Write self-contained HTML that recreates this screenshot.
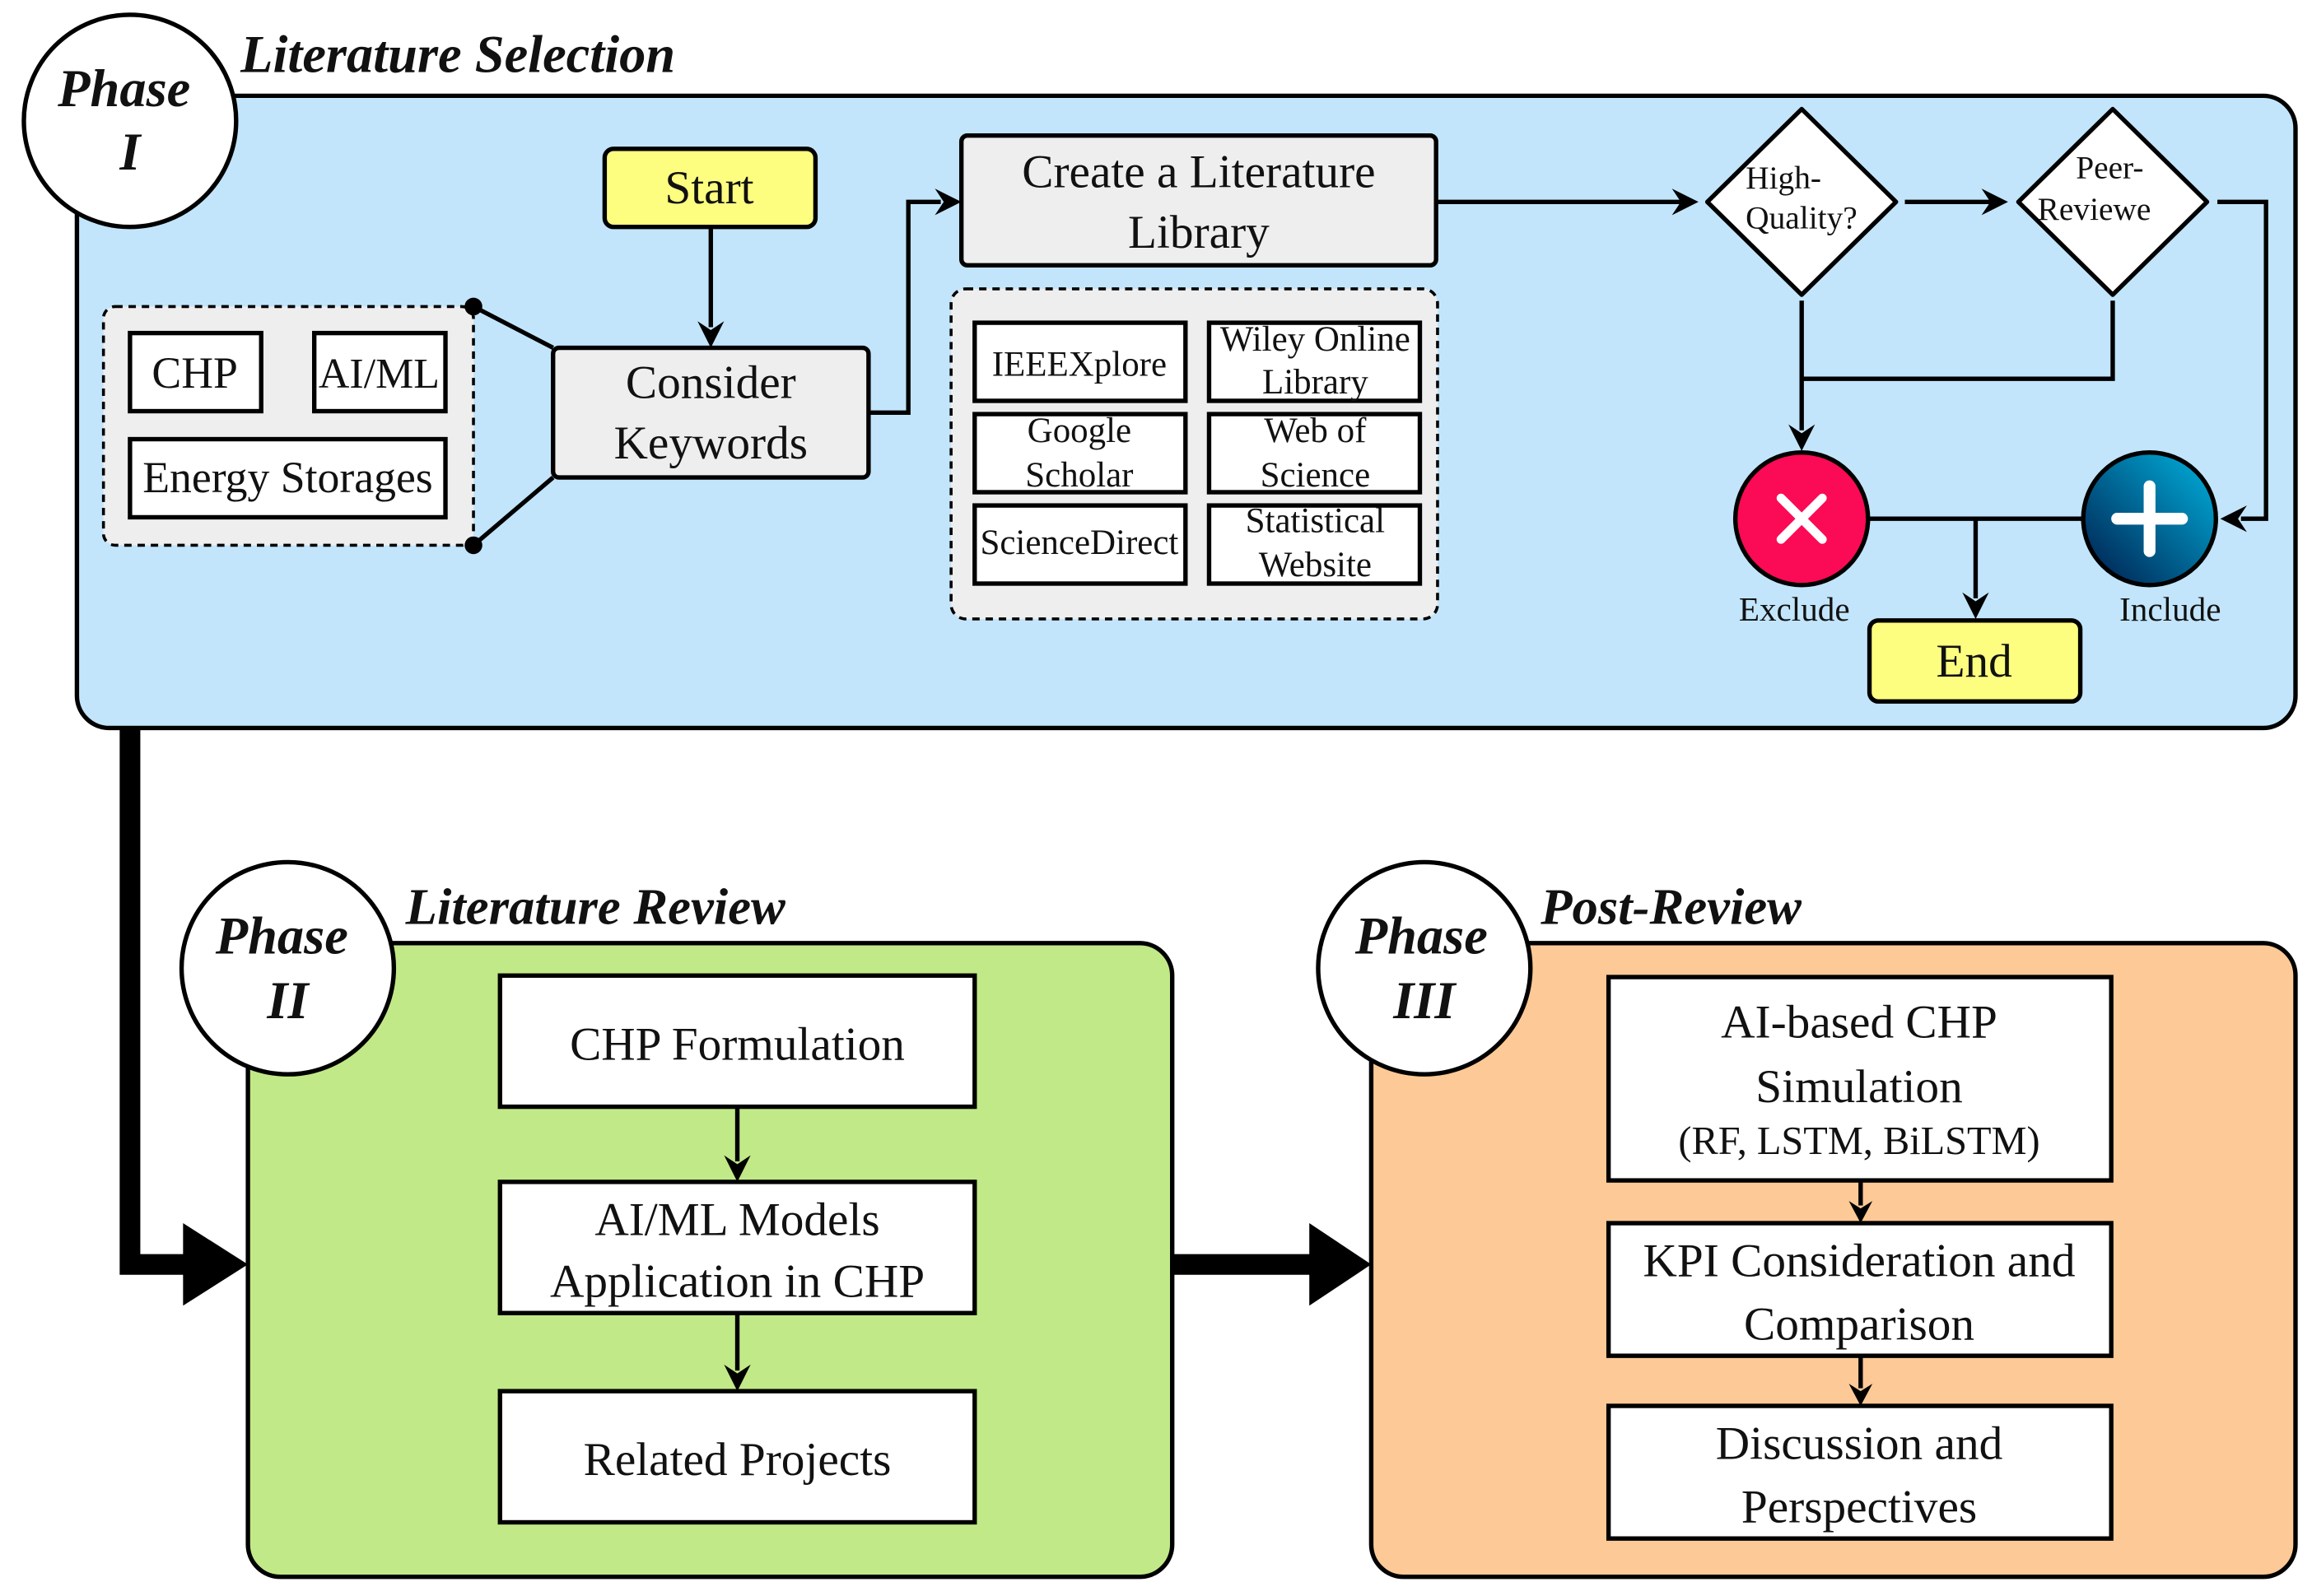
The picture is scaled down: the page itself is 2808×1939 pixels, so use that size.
<!DOCTYPE html>
<html><head><meta charset="utf-8"><style>
html,body{margin:0;padding:0;background:#fff;}
svg{display:block;font-family:"Liberation Serif","Times New Roman",Times,serif;}
svg text{font-family:"Liberation Serif","Times New Roman",Times,serif;fill:#111;}
.b{font-weight:bold;font-style:italic;}
</style></head><body>
<svg width="2808" height="1939" viewBox="0 0 1568 1083" xmlns="http://www.w3.org/2000/svg" font-family="Liberation Serif, Times New Roman, serif">
<defs>
<linearGradient id="gi" x1="0" y1="1" x2="1" y2="0">
<stop offset="0" stop-color="#001a4a"/><stop offset="1" stop-color="#00b4e0"/>
</linearGradient>
</defs>
<polyline points="88,490 88,858 128,858" fill="none" stroke="#000" stroke-width="14"/>
<polygon points="124,830 168,858 124,886" fill="#000"/>
<rect x="52" y="65" width="1505" height="429" rx="22" fill="#c2e5fb" stroke="#000" stroke-width="3"/>
<circle cx="88" cy="82" r="72" fill="#fff" stroke="#000" stroke-width="3"/>
<text x="84" y="72" font-size="36" text-anchor="middle" class="b">Phase</text>
<text x="88" y="115" font-size="36" text-anchor="middle" class="b">I</text>
<text x="163" y="49" font-size="36" class="b">Literature Selection</text>

<rect x="70" y="208" width="251" height="162" rx="8" fill="#eee" stroke="#000" stroke-width="2" stroke-dasharray="5,4"/>
<rect x="88" y="226" width="89" height="53" fill="#fff" stroke="#000" stroke-width="3"/>
<text x="132" y="263" font-size="30" text-anchor="middle">CHP</text>
<rect x="213" y="226" width="89" height="53" fill="#fff" stroke="#000" stroke-width="3"/>
<text x="257" y="263" font-size="29" text-anchor="middle">AI/ML</text>
<rect x="88" y="298" width="214" height="53" fill="#fff" stroke="#000" stroke-width="3"/>
<text x="195" y="334" font-size="30" text-anchor="middle">Energy Storages</text>
<line x1="321" y1="208" x2="375" y2="236" stroke="#000" stroke-width="3"/>
<line x1="321" y1="370" x2="375" y2="324" stroke="#000" stroke-width="3"/>
<circle cx="321" cy="208" r="6" fill="#000"/>
<circle cx="321" cy="370" r="6" fill="#000"/>

<rect x="410" y="101" width="143" height="53" rx="6" fill="#fdfd80" stroke="#000" stroke-width="3"/>
<text x="481" y="138" font-size="32" text-anchor="middle">Start</text>
<line x1="482" y1="154" x2="482" y2="222" stroke="#000" stroke-width="3"/>
<polygon points="473,218 482,236 491,218 482,224" fill="#000"/>
<rect x="375" y="236" width="214" height="88" rx="4" fill="#eee" stroke="#000" stroke-width="3"/>
<text x="482" y="270" font-size="32" text-anchor="middle">Consider</text>
<text x="482" y="311" font-size="32" text-anchor="middle">Keywords</text>
<polyline points="589,280 616,280 616,137 638,137" fill="none" stroke="#000" stroke-width="3"/>
<polygon points="634,128 652,137 634,146 640,137" fill="#000"/>

<rect x="652" y="92" width="322" height="88" rx="4" fill="#eee" stroke="#000" stroke-width="3"/>
<text x="813" y="127" font-size="32" text-anchor="middle">Create a Literature</text>
<text x="813" y="168" font-size="32" text-anchor="middle">Library</text>

<rect x="645" y="196" width="330" height="224" rx="10" fill="#eee" stroke="#000" stroke-width="2" stroke-dasharray="5,4"/>
<g fill="#fff" stroke="#000" stroke-width="3">
<rect x="661" y="219" width="143" height="53"/><rect x="820" y="219" width="143" height="53"/>
<rect x="661" y="281" width="143" height="53"/><rect x="820" y="281" width="143" height="53"/>
<rect x="661" y="343" width="143" height="53"/><rect x="820" y="343" width="143" height="53"/>
</g>
<g font-size="24" text-anchor="middle">
<text x="732" y="255">IEEEXplore</text>
<text x="892" y="238">Wiley Online</text><text x="892" y="267">Library</text>
<text x="732" y="300">Google</text><text x="732" y="330">Scholar</text>
<text x="892" y="300">Web of</text><text x="892" y="330">Science</text>
<text x="732" y="376">ScienceDirect</text>
<text x="892" y="361">Statistical</text><text x="892" y="391">Website</text>
</g>

<line x1="974" y1="137" x2="1140" y2="137" stroke="#000" stroke-width="3"/>
<polygon points="1134,128 1152,137 1134,146 1140,137" fill="#000"/>
<path d="M1222,74 L1286,137 L1222,200 L1158,137 Z" fill="#fff" stroke="#000" stroke-width="3" stroke-linejoin="round"/>
<text x="1184" y="128" font-size="22">High-</text>
<text x="1184" y="155" font-size="22">Quality?</text>
<line x1="1292" y1="137" x2="1350" y2="137" stroke="#000" stroke-width="3"/>
<polygon points="1344,128 1362,137 1344,146 1350,137" fill="#000"/>
<path d="M1433,74 L1497,137 L1433,200 L1369,137 Z" fill="#fff" stroke="#000" stroke-width="3" stroke-linejoin="round"/>
<text x="1408" y="121" font-size="22">Peer-</text>
<text x="1382" y="149" font-size="22">Reviewe</text>
<polyline points="1504,137 1537,137 1537,352 1520,352" fill="none" stroke="#000" stroke-width="3"/>
<polygon points="1524,343 1506,352 1524,361 1518,352" fill="#000"/>
<line x1="1222" y1="204" x2="1222" y2="292" stroke="#000" stroke-width="3"/>
<polygon points="1213,288 1222,306 1231,288 1222,294" fill="#000"/>
<polyline points="1433,204 1433,257 1222,257" fill="none" stroke="#000" stroke-width="3"/>

<line x1="1265" y1="352" x2="1415" y2="352" stroke="#000" stroke-width="3"/>
<line x1="1340" y1="352" x2="1340" y2="406" stroke="#000" stroke-width="3"/>
<polygon points="1331,402 1340,420 1349,402 1340,408" fill="#000"/>
<circle cx="1222" cy="352" r="45" fill="#fb0a55" stroke="#000" stroke-width="3"/>
<path d="M1208,338 L1236,366 M1236,338 L1208,366" stroke="#fff" stroke-width="6" stroke-linecap="round"/>
<circle cx="1458" cy="352" r="45" fill="url(#gi)" stroke="#000" stroke-width="3"/>
<path d="M1458,330 L1458,374 M1436,352 L1480,352" stroke="#fff" stroke-width="8" stroke-linecap="round"/>
<text x="1217" y="421" font-size="23" text-anchor="middle">Exclude</text>
<text x="1472" y="421" font-size="23" text-anchor="middle">Include</text>
<rect x="1268" y="421" width="143" height="55" rx="6" fill="#fdfd80" stroke="#000" stroke-width="3"/>
<text x="1339" y="459" font-size="32" text-anchor="middle">End</text>

<line x1="795" y1="858" x2="894" y2="858" stroke="#000" stroke-width="14"/>
<polygon points="888,830 930,858 888,886" fill="#000"/>
<rect x="168" y="640" width="627" height="430" rx="22" fill="#c1e987" stroke="#000" stroke-width="3"/>
<circle cx="195" cy="657" r="72" fill="#fff" stroke="#000" stroke-width="3"/>
<text x="191" y="647" font-size="36" text-anchor="middle" class="b">Phase</text>
<text x="195" y="691" font-size="36" text-anchor="middle" class="b">II</text>
<text x="275" y="627" font-size="35" class="b">Literature Review</text>
<g fill="#fff" stroke="#000" stroke-width="3">
<rect x="339" y="662" width="322" height="89"/>
<rect x="339" y="802" width="322" height="89"/>
<rect x="339" y="944" width="322" height="89"/>
</g>
<g font-size="32" text-anchor="middle">
<text x="500" y="719">CHP Formulation</text>
<text x="500" y="838">AI/ML Models</text>
<text x="500" y="880">Application in CHP</text>
<text x="500" y="1001">Related Projects</text>
</g>
<line x1="500" y1="751" x2="500" y2="788" stroke="#000" stroke-width="3"/>
<polygon points="491,784 500,802 509,784 500,790" fill="#000"/>
<line x1="500" y1="891" x2="500" y2="930" stroke="#000" stroke-width="3"/>
<polygon points="491,926 500,944 509,926 500,932" fill="#000"/>

<rect x="930" y="640" width="627" height="430" rx="22" fill="#fdc996" stroke="#000" stroke-width="3"/>
<circle cx="966" cy="657" r="72" fill="#fff" stroke="#000" stroke-width="3"/>
<text x="964" y="647" font-size="36" text-anchor="middle" class="b">Phase</text>
<text x="966" y="691" font-size="36" text-anchor="middle" class="b">III</text>
<text x="1045" y="627" font-size="35" class="b">Post-Review</text>
<g fill="#fff" stroke="#000" stroke-width="3">
<rect x="1091" y="663" width="341" height="138"/>
<rect x="1091" y="830" width="341" height="90"/>
<rect x="1091" y="954" width="341" height="90"/>
</g>
<g font-size="32" text-anchor="middle">
<text x="1261" y="704">AI-based CHP</text>
<text x="1261" y="748">Simulation</text>
<text x="1261" y="783" font-size="27">(RF, LSTM, BiLSTM)</text>
<text x="1261" y="866">KPI Consideration and</text>
<text x="1261" y="909">Comparison</text>
<text x="1261" y="990">Discussion and</text>
<text x="1261" y="1033">Perspectives</text>
</g>
<line x1="1262" y1="801" x2="1262" y2="818" stroke="#000" stroke-width="3"/>
<polygon points="1254,815 1262,830 1270,815 1262,820" fill="#000"/>
<line x1="1262" y1="920" x2="1262" y2="942" stroke="#000" stroke-width="3"/>
<polygon points="1254,939 1262,954 1270,939 1262,944" fill="#000"/>
</svg>
</body></html>
